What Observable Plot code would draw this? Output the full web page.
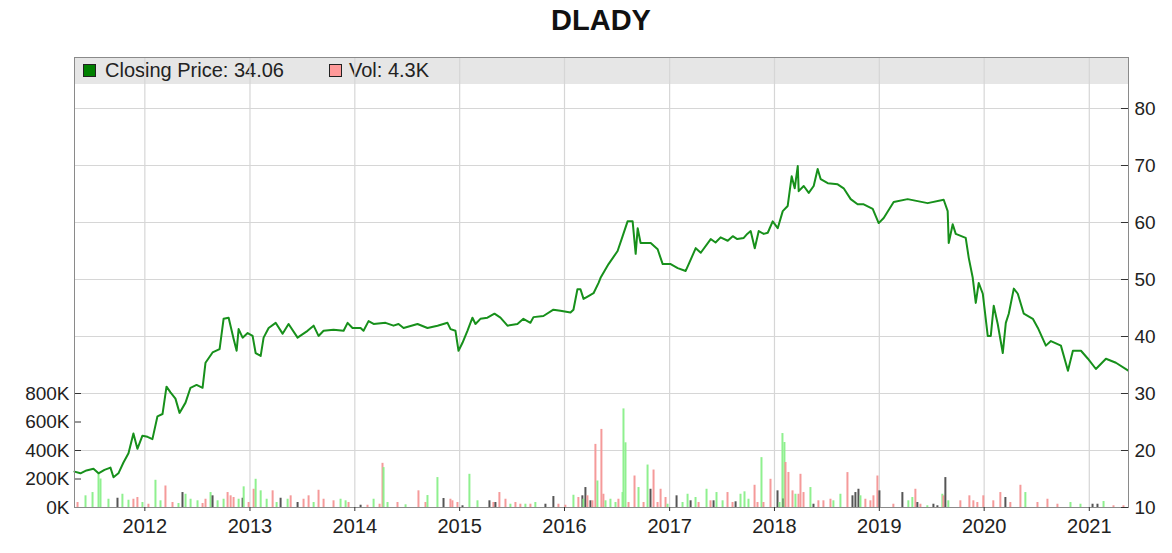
<!DOCTYPE html>
<html><head><meta charset="utf-8">
<script src="https://cdn.jsdelivr.net/npm/d3@7"></script>
<script src="https://cdn.jsdelivr.net/npm/@observablehq/plot@0.6"></script>
<style>
body{margin:0;background:#fff;font-family:"Liberation Sans",Arial,sans-serif;}
#wrap{position:relative;width:1172px;height:553px;overflow:hidden;}
#title{position:absolute;left:74px;width:1054px;top:0;height:40px;line-height:40px;text-align:center;font-weight:bold;font-size:29px;color:#111;}
#band{position:absolute;left:74px;top:57px;width:1054px;height:27px;background:#e6e6e6;}
.layer{position:absolute;left:0;top:40px;}
.sw{position:absolute;top:64px;width:11px;height:11px;border:1px solid #222;}
.lt{position:absolute;top:57px;height:27px;line-height:27px;font-size:20px;color:#222;white-space:nowrap;}
</style></head>
<body>
<div id="wrap">
  <div id="title">DLADY</div>
  <div id="band"></div>
  <div class="sw" style="left:83px;background:#008000"></div>
  <div class="lt" id="lg1" style="left:105px"></div>
  <div class="sw" style="left:329px;background:#ff9a9a"></div>
  <div class="lt" id="lg2" style="left:349px"></div>
  <div class="layer" id="l1"></div>
  <div class="layer" id="l2"></div>
  <div class="layer" id="l3"></div>
</div>
<script>
// ---- data ----
const title = "DLADY";
const legendLabels = ["Closing Price: 34.06", "Vol: 4.3K"];
const yearTicks = [2012, 2013, 2014, 2015, 2016, 2017, 2018, 2019, 2020, 2021];
const priceTicks = [10, 20, 30, 40, 50, 60, 70, 80];
const volTicks = [0, 200, 400, 600, 800]; // thousands
const xStartYear = 2011.329, xEndYear = 2021.374;
const priceDomain = [10, 88.95];
const volDomain = [0, 3158];

const priceYears = [2011.329,2011.386,2011.443,2011.510,2011.558,2011.615,2011.672,2011.701,2011.748,2011.796,2011.844,2011.891,2011.929,2011.977,2012.025,2012.072,2012.120,2012.168,2012.206,2012.244,2012.291,2012.330,2012.387,2012.434,2012.492,2012.549,2012.577,2012.644,2012.711,2012.749,2012.797,2012.844,2012.873,2012.892,2012.930,2012.978,2013.025,2013.054,2013.102,2013.130,2013.178,2013.245,2013.311,2013.368,2013.454,2013.549,2013.607,2013.654,2013.702,2013.797,2013.893,2013.931,2013.978,2014.055,2014.083,2014.131,2014.179,2014.293,2014.369,2014.417,2014.465,2014.598,2014.693,2014.789,2014.884,2014.913,2014.960,2014.989,2015.027,2015.074,2015.122,2015.151,2015.198,2015.265,2015.332,2015.389,2015.456,2015.551,2015.608,2015.675,2015.704,2015.799,2015.894,2015.961,2016.057,2016.085,2016.123,2016.152,2016.181,2016.228,2016.276,2016.324,2016.343,2016.419,2016.505,2016.553,2016.600,2016.648,2016.677,2016.696,2016.724,2016.820,2016.886,2016.934,2017.010,2017.077,2017.153,2017.182,2017.249,2017.297,2017.392,2017.438,2017.486,2017.554,2017.602,2017.645,2017.707,2017.740,2017.773,2017.812,2017.850,2017.898,2017.936,2017.983,2018.031,2018.079,2018.126,2018.164,2018.193,2018.222,2018.231,2018.279,2018.327,2018.374,2018.412,2018.441,2018.508,2018.603,2018.660,2018.727,2018.793,2018.851,2018.937,2018.994,2019.042,2019.137,2019.270,2019.461,2019.614,2019.652,2019.662,2019.700,2019.729,2019.824,2019.853,2019.891,2019.920,2019.948,2019.987,2020.034,2020.063,2020.091,2020.129,2020.177,2020.206,2020.234,2020.282,2020.320,2020.377,2020.463,2020.511,2020.587,2020.635,2020.730,2020.797,2020.844,2020.921,2020.987,2021.063,2021.159,2021.254,2021.368];
const priceValues = [16.3,16.0,16.5,16.8,16.0,16.6,17.0,15.3,16.0,17.9,19.5,23.0,20.3,22.6,22.4,22.0,26.0,26.4,31.2,30.2,29.1,26.6,28.4,31.0,31.5,31.0,35.4,37.2,37.8,43.1,43.3,39.6,37.5,41.3,39.8,40.6,40.1,37.1,36.6,39.8,41.5,42.4,40.5,42.2,39.8,41.0,41.9,40.1,41.0,41.2,41.0,42.4,41.5,41.5,41.0,42.7,42.2,42.4,41.9,42.2,41.5,42.2,41.5,41.9,42.4,41.3,41.0,37.5,38.9,41.0,43.3,42.2,43.1,43.3,44.0,43.3,41.9,42.2,43.1,42.4,43.4,43.6,44.7,44.5,44.2,44.7,48.3,48.3,46.6,47.1,47.6,49.4,50.3,52.7,55.0,57.6,60.2,60.2,54.5,59.0,56.4,56.4,55.3,52.7,52.7,52.0,51.5,52.7,55.5,54.7,57.1,56.5,57.4,56.8,57.6,57.1,57.3,58.0,58.5,55.5,58.5,58.0,58.2,60.2,59.0,62.0,62.9,68.1,66.0,69.9,65.5,66.4,65.2,66.4,69.4,67.6,66.9,66.7,66.0,64.1,63.2,63.2,62.4,59.9,60.8,63.6,64.1,63.4,64.0,62.0,56.4,59.7,58.0,57.3,53.8,50.3,45.9,49.4,47.5,40.1,40.1,45.4,42.2,37.1,42.4,44.0,48.4,47.5,44.0,43.1,41.5,38.4,39.2,38.4,34.0,37.5,37.5,36.1,34.3,36.1,35.4,34.06];

const volYears = [2011.358,2011.434,2011.501,2011.558,2011.577,2011.653,2011.739,2011.786,2011.844,2011.891,2011.929,2011.977,2012.034,2012.101,2012.149,2012.196,2012.263,2012.320,2012.358,2012.387,2012.435,2012.501,2012.549,2012.577,2012.625,2012.644,2012.692,2012.749,2012.787,2012.816,2012.844,2012.892,2012.930,2012.940,2012.987,2013.035,2013.054,2013.102,2013.159,2013.216,2013.254,2013.292,2013.359,2013.388,2013.454,2013.511,2013.559,2013.607,2013.654,2013.702,2013.797,2013.864,2013.912,2013.940,2014.055,2014.121,2014.179,2014.236,2014.264,2014.274,2014.312,2014.407,2014.484,2014.607,2014.674,2014.693,2014.788,2014.846,2014.912,2014.931,2014.979,2015.027,2015.093,2015.170,2015.284,2015.322,2015.341,2015.379,2015.437,2015.484,2015.532,2015.579,2015.627,2015.675,2015.722,2015.818,2015.894,2015.942,2016.008,2016.085,2016.132,2016.170,2016.180,2016.199,2016.218,2016.247,2016.266,2016.294,2016.313,2016.351,2016.370,2016.390,2016.437,2016.485,2016.513,2016.552,2016.561,2016.580,2016.609,2016.666,2016.704,2016.752,2016.790,2016.818,2016.847,2016.885,2016.914,2016.961,2016.980,2017.066,2017.123,2017.171,2017.200,2017.247,2017.276,2017.352,2017.390,2017.419,2017.447,2017.505,2017.552,2017.600,2017.629,2017.676,2017.714,2017.752,2017.810,2017.838,2017.876,2017.895,2017.962,2018.029,2018.048,2018.076,2018.086,2018.095,2018.105,2018.133,2018.172,2018.200,2018.229,2018.248,2018.277,2018.343,2018.372,2018.419,2018.467,2018.534,2018.562,2018.629,2018.696,2018.744,2018.772,2018.801,2018.820,2018.867,2018.915,2018.944,2018.982,2019.001,2019.134,2019.220,2019.277,2019.315,2019.344,2019.363,2019.392,2019.458,2019.516,2019.554,2019.601,2019.611,2019.630,2019.658,2019.773,2019.859,2019.897,2019.935,2019.992,2020.087,2020.154,2020.202,2020.249,2020.345,2020.392,2020.507,2020.602,2020.697,2020.821,2020.916,2021.031,2021.078,2021.136,2021.231,2021.326];
const volValues = [35,82,105,233,200,58,65,93,51,58,70,35,23,191,47,151,35,28,105,93,58,47,28,58,105,82,47,58,105,82,70,58,65,145,35,128,198,117,58,117,35,65,58,82,35,58,82,35,121,58,47,58,47,35,16,16,58,23,310,280,35,35,19,117,35,84,210,63,58,47,35,12,233,47,47,35,35,105,58,23,35,23,23,23,35,23,77,23,16,86,70,82,58,140,82,47,47,443,186,548,93,47,58,35,58,105,692,454,35,221,140,35,298,128,263,35,128,70,23,82,35,93,47,70,35,128,47,47,105,47,105,35,40,93,110,58,156,35,350,35,198,117,35,519,60,456,316,246,117,93,93,233,105,140,23,47,47,58,47,93,245,82,105,128,82,58,47,82,221,117,23,105,47,70,128,35,23,12,23,12,93,82,210,47,47,82,47,35,82,47,105,70,35,156,105,35,58,23,35,23,23,23,42,12,12];
const volKinds = ["d","u","u","u","u","u","f","u","u","d","d","u","d","u","u","d","d","u","f","u","u","u","d","d","u","f","u","u","d","d","d","u","f","u","d","d","u","u","u","d","u","f","u","d","f","d","d","u","d","d","d","u","u","d","f","d","u","d","d","u","u","d","u","d","d","u","u","f","d","d","d","f","u","u","f","d","f","d","d","u","d","d","u","d","u","f","f","d","d","u","d","f","u","f","d","f","d","d","u","d","d","u","u","u","d","u","u","u","d","d","u","d","u","f","d","d","d","d","u","f","u","u","f","u","d","u","d","f","u","u","d","d","f","u","u","u","d","d","u","d","d","f","u","u","f","u","d","d","d","u","d","d","d","u","f","d","d","d","u","u","d","f","f","f","u","d","d","d","d","f","d","f","u","u","d","f","d","u","f","f","u","d","f","u","d","d","d","d","d","d","d","f","d","d","u","d","d","d","u","u","f","f","u","d","d"];

// ---- helpers ----
function yearToDate(y) {
  const yr = Math.floor(y);
  const a = Date.UTC(yr, 0, 1), b = Date.UTC(yr + 1, 0, 1);
  return new Date(a + (y - yr) * (b - a));
}
const price = priceYears.map((y, i) => ({date: yearToDate(y), close: priceValues[i]}));
const vols = volYears.map((y, i) => ({date: yearToDate(y), vol: volValues[i], kind: volKinds[i]}));
const yearDates = yearTicks.map(y => new Date(Date.UTC(y, 0, 1)));
const xDomain = [yearToDate(xStartYear), yearToDate(xEndYear)];

document.getElementById("title").textContent = title;
document.getElementById("lg1").textContent = legendLabels[0];
document.getElementById("lg2").textContent = legendLabels[1];

const W = 1172, H = 513, ML = 74, MR = 44, MT = 17, MB = 46;
const innerW = W - ML - MR;
const base = {
  width: W, height: H, marginLeft: ML, marginRight: MR, marginTop: MT, marginBottom: MB,
  style: {background: "transparent", fontFamily: "'Liberation Sans', Arial, sans-serif", fontSize: "19px", color: "#222", overflow: "visible"}
};
const gridColor = "#d6d6d6";

// layer 1: grid
const p1 = Plot.plot({
  ...base,
  x: {type: "utc", domain: xDomain, axis: null},
  y: {domain: priceDomain, axis: null},
  marks: [
    Plot.gridX(yearDates, {stroke: gridColor, strokeOpacity: 1, strokeWidth: 1.2}),
    Plot.gridY(priceTicks.filter(t => t > 10), {stroke: gridColor, strokeOpacity: 1, strokeWidth: 1.2})
  ]
});
document.getElementById("l1").append(p1);

// layer 2: volume
const p2 = Plot.plot({
  ...base,
  x: {type: "utc", domain: xDomain, axis: null},
  y: {domain: volDomain, label: null},
  color: {domain: ["u", "d", "f"], range: ["#8ff08f", "#f59a9a", "#555555"]},
  marks: [
    Plot.ruleX(vols, {x: "date", y1: 0, y2: "vol", stroke: "kind", strokeWidth: 2}),
    Plot.axisY(volTicks, {anchor: "left", label: null, tickSize: 0, tickPadding: 5, tickFormat: d => d + "K"}),
    Plot.tickY(volTicks, {y: d => d, stroke: "#333", insetRight: innerW - 7})
  ]
});
document.getElementById("l2").append(p2);

// layer 3: price line, axes, frame
const p3 = Plot.plot({
  ...base,
  x: {type: "utc", domain: xDomain, label: null},
  y: {domain: priceDomain, label: null},
  marks: [
    Plot.line(price, {x: "date", y: "close", stroke: "#17901b", strokeWidth: 2}),
    Plot.frame({stroke: "#8a8a8a"}),
    Plot.axisY(priceTicks, {anchor: "right", label: null, tickSize: 0, tickPadding: 6}),
    Plot.tickY(priceTicks, {y: d => d, stroke: "#333", insetLeft: innerW - 7}),
    Plot.axisX(yearDates, {label: null, tickSize: 4, tickPadding: 7, stroke: "#333", fontSize: "20px", tickFormat: d3.utcFormat("%Y")})
  ]
});
document.getElementById("l3").append(p3);
</script>
</body></html>
